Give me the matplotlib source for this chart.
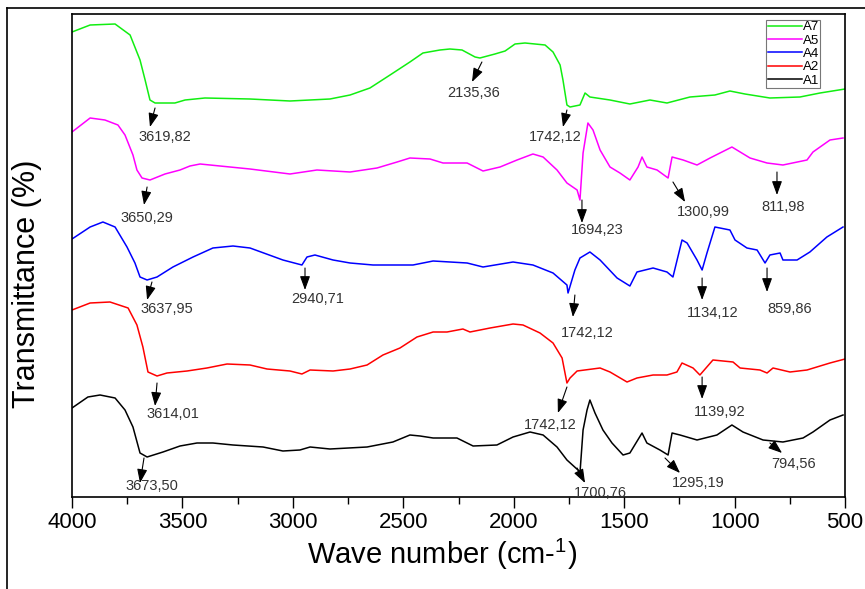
import numpy as np
import matplotlib
matplotlib.use("Agg")
import matplotlib.pyplot as plt
from matplotlib.lines import Line2D
from matplotlib.ticker import MultipleLocator

plt.rcParams['font.family'] = ['Liberation Sans', 'DejaVu Sans']
plt.rcParams['mathtext.default'] = 'regular'

# spectra, stacked (arbitrary transmittance units, offset per sample)
wn_a7 = [4000, 3918, 3805, 3737, 3692, 3669, 3647, 3624, 3534, 3488, 3398, 3194, 3013,
         2832, 2741, 2651, 2560, 2470, 2411, 2334, 2289, 2234, 2175, 2153, 2085, 2039,
         1994, 1949, 1858, 1822, 1790, 1777, 1759, 1745, 1700, 1677, 1655, 1564, 1474,
         1383, 1306, 1202, 1089, 1021, 953, 840, 704, 613, 500]
t_a7 = [465, 472, 473, 462, 437, 417, 397, 394, 394, 397, 399, 398, 396,
        398, 402, 409, 422, 435, 444, 447, 448, 447, 440, 439, 443, 446,
        453, 454, 452, 445, 432, 417, 392, 390, 392, 404, 400, 397, 393,
        397, 394, 400, 402, 406, 403, 399, 400, 404, 408]

wn_a5 = [4000, 3918, 3851, 3792, 3760, 3724, 3706, 3683, 3647, 3579, 3511, 3466, 3420,
         3330, 3194, 3013, 2891, 2741, 2619, 2528, 2470, 2379, 2320, 2211, 2139, 2062,
         1985, 1913, 1867, 1804, 1759, 1713, 1700, 1686, 1664, 1641, 1609, 1564, 1519,
         1474, 1437, 1419, 1397, 1351, 1301, 1283, 1233, 1170, 1111, 1012, 930, 853,
         781, 672, 645, 568, 509]
t_a5 = [365, 379, 377, 372, 362, 342, 327, 319, 317, 323, 327, 331, 333,
        331, 328, 323, 327, 325, 329, 335, 339, 338, 334, 334, 326, 330,
        337, 343, 340, 327, 314, 307, 297, 344, 374, 367, 347, 330, 324,
        317, 330, 340, 330, 327, 319, 340, 337, 332, 339, 350, 339, 334,
        332, 337, 345, 357, 359]

wn_a4 = [4000, 3918, 3860, 3805, 3751, 3715, 3692, 3660, 3615, 3543, 3452, 3362, 3271,
         3194, 3045, 2959, 2936, 2900, 2818, 2741, 2637, 2456, 2365, 2211, 2139, 2003,
         1913, 1822, 1759, 1754, 1723, 1700, 1655, 1609, 1532, 1474, 1442, 1369, 1306,
         1279, 1238, 1215, 1170, 1147, 1125, 1089, 1021, 998, 944, 898, 862, 840, 794,
         781, 717, 659, 582, 509]
t_a4 = [258, 270, 275, 270, 250, 234, 220, 217, 220, 230, 240, 249, 251,
        249, 237, 232, 240, 242, 237, 234, 232, 232, 236, 234, 230, 235,
        232, 224, 212, 204, 227, 239, 245, 237, 219, 211, 225, 229, 225,
        220, 257, 254, 237, 227, 244, 270, 267, 257, 249, 247, 234, 242, 244,
        237, 237, 245, 260, 270]

wn_a2 = [4000, 3918, 3828, 3746, 3706, 3679, 3656, 3615, 3570, 3479, 3389, 3298, 3194,
         3117, 3013, 2959, 2922, 2818, 2741, 2664, 2592, 2515, 2438, 2365, 2302, 2230,
         2198, 2107, 2003, 1958, 1881, 1822, 1781, 1759, 1745, 1713, 1609, 1564, 1487,
         1442, 1369, 1306, 1261, 1238, 1188, 1157, 1098, 1007, 975, 885, 853, 826, 749,
         672, 568, 500]
t_a2 = [187, 194, 195, 189, 172, 150, 125, 121, 124, 126, 129, 133, 132,
        128, 126, 123, 127, 126, 128, 132, 142, 149, 160, 165, 165, 168,
        165, 169, 173, 172, 164, 154, 139, 114, 119, 126, 129, 125, 115,
        119, 122, 122, 125, 134, 129, 122, 137, 135, 129, 127, 124, 129, 125,
        127, 134, 138]

wn_a1 = [4000, 3928, 3873, 3805, 3760, 3724, 3692, 3660, 3588, 3511, 3434, 3362, 3271,
         3135, 3045, 2968, 2922, 2832, 2664, 2547, 2470, 2424, 2365, 2257, 2184, 2076,
         2003, 1926, 1867, 1804, 1759, 1709, 1700, 1686, 1668, 1655, 1632, 1596, 1555,
         1505, 1474, 1419, 1397, 1338, 1301, 1283, 1247, 1170, 1080, 1012, 962, 871,
         781, 690, 645, 568, 509]
t_a1 = [89, 100, 102, 99, 87, 70, 44, 40, 45, 51, 54, 54, 52,
        50, 46, 47, 50, 48, 50, 55, 62, 61, 59, 59, 51, 52,
        60, 65, 62, 50, 37, 27, 24, 67, 87, 97, 84, 67, 54,
        42, 44, 64, 54, 47, 42, 64, 62, 57, 62, 72, 65, 57,
        55, 59, 65, 77, 82]

series = [("A7", wn_a7, t_a7, "#11ee11"),
          ("A5", wn_a5, t_a5, "#ff00ff"),
          ("A4", wn_a4, t_a4, "#0000ff"),
          ("A2", wn_a2, t_a2, "#ff0000"),
          ("A1", wn_a1, t_a1, "#000000")]

# peak labels: text, arrow tail, arrow head, text centre (wn, T)
peak_labels = ["3619,82", "3650,29", "3637,95", "2940,71", "3614,01", "3673,50",
               "2135,36", "1742,12", "1694,23", "1300,99", "811,98", "1742,12",
               "1134,12", "859,86", "1139,92", "1742,12", "1700,76", "1295,19", "794,56"]
arrow_tail = [(3624, 389), (3660, 310), (3638, 215), (2945, 229), (3615, 114), (3674, 39),
              (2144, 435), (1759, 387), (1691, 297), (1279, 315), (808, 325), (1723, 202),
              (1147, 219), (853, 229), (1147, 120), (1759, 110), (1713, 29), (1315, 39), (840, 54)]
arrow_head = [(3647, 370), (3674, 292), (3660, 197), (2945, 207), (3624, 91), (3692, 14),
              (2189, 415), (1777, 370), (1691, 274), (1224, 295), (808, 302), (1732, 180),
              (1147, 197), (853, 205), (1147, 98), (1800, 84), (1677, 14), (1247, 24), (785, 44)]
label_pos = [(3579, 360), (3660, 279), (3570, 188), (2886, 198), (3543, 83), (3638, 11),
             (2180, 404), (1813, 360), (1623, 267), (1143, 285), (781, 290), (1668, 164),
             (1098, 184), (749, 188), (1066, 85), (1836, 72), (1609, 4), (1166, 14), (735, 33)]

fig = plt.figure(figsize=(8.65, 5.89), dpi=100)
ax = fig.add_axes([72/865, 1-497/589, 773/865, 483/589])

for name, wn, t, c in series:
    ax.plot(wn, t, color=c, lw=1.1, label=name)

for lab, tail, head, pos in zip(peak_labels, arrow_tail, arrow_head, label_pos):
    ax.annotate("", xy=head, xytext=tail,
                arrowprops=dict(arrowstyle="-|>,head_length=0.6,head_width=0.22",
                                color="k", lw=0.8, mutation_scale=14, shrinkA=0, shrinkB=0))
    ax.text(pos[0], pos[1], lab, fontsize=10.5, color="#333333", ha="center", va="center")

ax.set_xlim(4000, 500)
ax.set_ylim(0, 483)
ax.set_yticks([])
ax.xaxis.set_major_locator(MultipleLocator(500))
ax.xaxis.set_minor_locator(MultipleLocator(250))
ax.tick_params(axis="x", which="major", direction="out", length=8, width=1, labelsize=16, pad=3)
ax.tick_params(axis="x", which="minor", direction="out", length=5, width=1)
for s in ax.spines.values():
    s.set_linewidth(1.2)

ax.set_xlabel("Wave number (cm-$^{1}$)", fontsize=21)
ax.xaxis.set_label_coords(0.479, -0.082)
ax.set_ylabel("Transmittance (%)", fontsize=22)
ax.yaxis.set_label_coords(-0.039, 0.441)

leg = ax.legend(loc="upper right", bbox_to_anchor=(0.968, 0.988), fontsize=9.5,
                handlelength=2.6, handletextpad=0.05, borderpad=0.1, labelspacing=0.08,
                borderaxespad=0, fancybox=False, framealpha=1, edgecolor="#777777")
leg.get_frame().set_linewidth(0.8)

# outer frame around the whole figure
fig.add_artist(Line2D([7.5/865, 7.5/865], [0, 1-7.5/589], color="k", lw=1.2))
fig.add_artist(Line2D([7.5/865, 1], [1-7.5/589, 1-7.5/589], color="k", lw=1.2))

fig.savefig("out.png", dpi=100)
